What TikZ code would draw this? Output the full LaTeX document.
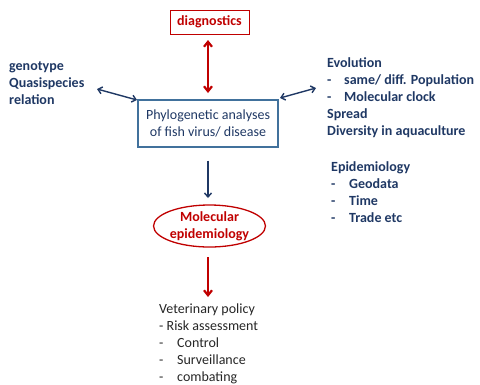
\documentclass[tikz,border=0pt]{standalone}
\usepackage{fontspec}
\setmainfont{Carlito}
\usetikzlibrary{arrows.meta,shapes.geometric}
\definecolor{dred}{HTML}{C00000}
\definecolor{navy}{HTML}{1F3864}
\definecolor{boxblue}{HTML}{41719C}
\definecolor{vgray}{HTML}{262626}
\tikzset{
  txt/.style={font=\fontsize{14}{17}\selectfont, inner sep=0pt, align=left},
  redarrow/.style={draw=dred, line width=2.2pt, -{Straight Barb[length=5pt,width=8pt]}},
  navyarrow/.style={draw=navy, line width=1.4pt, -{Straight Barb[length=4pt,width=7pt]}},
}
\newcommand{\dsh}[2]{\makebox[#1][l]{-}#2}
\begin{document}
\begin{tikzpicture}[x=1pt,y=-1pt]
\useasboundingbox (0,0) rectangle (480,384);
\node[draw=dred, line width=1pt, minimum width=79pt, minimum height=24pt, inner sep=0pt,
      text=dred, font=\fontsize{14}{17}\selectfont\bfseries] (diag) at (209.5,22) {diagnostics};
\node[draw=boxblue, line width=1.3pt, minimum width=140pt, minimum height=47pt, inner sep=0pt,
      text=navy, align=center, font=\fontsize{14}{17}\selectfont] (phylo) at (208,123.5)
      {Phylogenetic analyses\\of fish virus/ disease};
\node[ellipse, draw=dred, line width=1.3pt, minimum width=105pt, minimum height=42pt, inner sep=0pt,
      text=dred, align=center, font=\fontsize{14}{17}\selectfont\bfseries] (mol) at (209.5,226)
      {Molecular\\epidemiology};
\node[txt, anchor=north west, text=navy, font=\fontsize{14}{17}\selectfont\bfseries] (left) at (9,61)
      {genotype\\Quasispecies\\relation};
\node[txt, anchor=north west, text=navy, font=\fontsize{14}{17}\selectfont\bfseries] (evo) at (327,57)
      {Evolution\\\dsh{17pt}{same/ diff. Population}\\\dsh{17pt}{Molecular clock}\\Spread\\Diversity in aquaculture};
\node[txt, anchor=north west, text=navy, font=\fontsize{14}{17}\selectfont\bfseries] (epi) at (331,161)
      {Epidemiology\\\dsh{18pt}{Geodata}\\\dsh{18pt}{Time}\\\dsh{18pt}{Trade etc}};
\node[txt, anchor=north west, text=vgray] (vet) at (159,304)
      {Veterinary policy\\- Risk assessment\\\dsh{18pt}{Control}\\\dsh{18pt}{Surveillance}\\\dsh{18pt}{combating}};
\coordinate (la) at (97,89);
\coordinate (ra) at (316,88);
\coordinate (pl) at (137,100);
\coordinate (pr) at (280,98);
\draw[redarrow, {Straight Barb[length=5pt,width=8pt]}-{Straight Barb[length=5pt,width=8pt]}] (208,40) -- (208,93);
\draw[navyarrow, {Straight Barb[length=4pt,width=7pt]}-{Straight Barb[length=4pt,width=7pt]}] (la) -- (pl);
\draw[navyarrow, {Straight Barb[length=4pt,width=7pt]}-{Straight Barb[length=4pt,width=7pt]}] (pr) -- (ra);
\draw[navyarrow] (phylo.south -| 208,0) ++(0,13) -- (208,198);
\draw[redarrow] (208,257) -- (208,297);
\end{tikzpicture}
\end{document}
